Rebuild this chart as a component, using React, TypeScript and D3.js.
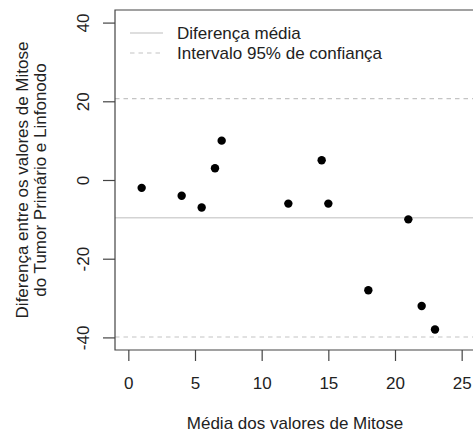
import { useEffect, useRef } from "react";
import * as d3 from "d3";

// Média (x) e diferença (y) dos valores de Mitose
const meanValues = [1, 4, 5.5, 6.5, 7, 12, 14.5, 15, 18, 21, 22, 23];
const diffValues = [-2, -4, -7, 3, 10, -6, 5, -6, -28, -10, -32, -38];

const meanDiff = -9.6;
const upperLimit = 20.7;
const lowerLimit = -39.9;

const xTicks = [0, 5, 10, 15, 20, 25];
const yTicks = [-40, -20, 0, 20, 40];

const legendLabels = ["Diferença média", "Intervalo 95% de confiança"];

export default function App() {
    const svgRef = useRef<SVGSVGElement>(null);

    useEffect(() => {
        const svg = d3.select(svgRef.current);
        svg.selectAll("*").remove();

        const width = 473;
        const height = 435;
        const left = 115;
        const right = 475;
        const top = 10;
        const bottom = 350;
        const font = "Liberation Sans, Arial, sans-serif";
        const fontSize = "17px";
        const ink = "#222";
        const axisColor = "#444";
        const dash = "4.5,4";

        const x = d3.scaleLinear().domain([-1, 26]).range([left, right]);
        const y = d3.scaleLinear().domain([-43.2, 43.2]).range([bottom, top]);

        svg.attr("width", width).attr("height", height);

        // reference lines
        svg.append("line")
            .attr("x1", left)
            .attr("x2", right)
            .attr("y1", y(meanDiff))
            .attr("y2", y(meanDiff))
            .attr("stroke", "#d3d3d3")
            .attr("stroke-width", 1.5);

        [upperLimit, lowerLimit].forEach((v) => {
            svg.append("line")
                .attr("x1", left)
                .attr("x2", right)
                .attr("y1", y(v))
                .attr("y2", y(v))
                .attr("stroke", "#c4c4c4")
                .attr("stroke-width", 1.2)
                .attr("stroke-dasharray", dash);
        });

        // points
        svg.selectAll(".pt")
            .data(meanValues)
            .join("circle")
            .attr("class", "pt")
            .attr("cx", (d) => x(d))
            .attr("cy", (_d, i) => y(diffValues[i]))
            .attr("r", 4.2)
            .attr("fill", "#000");

        // box (left, top, bottom)
        svg.append("path")
            .attr("d", `M${right},${top}H${left}V${bottom}H${right}`)
            .attr("fill", "none")
            .attr("stroke", axisColor)
            .attr("stroke-width", 1.2);

        // x axis
        const xAxis = svg.append("g")
            .attr("transform", `translate(0,${bottom})`)
            .call(d3.axisBottom(x).tickValues(xTicks).tickFormat((d) => String(d)).tickSize(11).tickSizeOuter(0));
        xAxis.select(".domain").remove();
        xAxis.selectAll("line").attr("stroke", axisColor).attr("stroke-width", 1.2);
        xAxis.selectAll("text")
            .attr("y", 33)
            .attr("dy", null)
            .attr("dominant-baseline", "central")
            .attr("fill", ink)
            .style("font-family", font)
            .style("font-size", fontSize);

        // y axis
        const yAxis = svg.append("g")
            .attr("transform", `translate(${left},0)`)
            .call(d3.axisLeft(y).tickValues(yTicks).tickFormat((d) => String(d)).tickSize(12).tickSizeOuter(0));
        yAxis.select(".domain").remove();
        yAxis.selectAll("line").attr("stroke", axisColor).attr("stroke-width", 1.2);
        yAxis.selectAll("text")
            .attr("fill", ink)
            .attr("x", null)
            .attr("dy", null)
            .attr("transform", "translate(-32,0) rotate(-90)")
            .attr("text-anchor", "middle")
            .attr("dominant-baseline", "central")
            .style("font-family", font)
            .style("font-size", fontSize);

        // axis titles
        svg.append("text")
            .attr("x", (left + right) / 2)
            .attr("y", 423)
            .attr("text-anchor", "middle")
            .attr("dominant-baseline", "central")
            .attr("fill", ink)
            .style("font-family", font)
            .style("font-size", fontSize)
            .text("Média dos valores de Mitose");

        const yTitle = svg.append("text")
            .attr("transform", `translate(0,${(top + bottom) / 2}) rotate(-90)`)
            .attr("text-anchor", "middle")
            .attr("fill", ink)
            .style("font-family", font)
            .style("font-size", fontSize);
        yTitle.append("tspan").attr("x", 0).attr("y", 28).text("Diferença entre os valores de Mitose");
        yTitle.append("tspan").attr("x", 0).attr("y", 46).text("do Tumor Primário e Linfonodo");

        // legend
        const legend = svg.append("g");
        legendLabels.forEach((label, i) => {
            const ly = 33 + i * 20;
            legend.append("line")
                .attr("x1", 130)
                .attr("x2", 163)
                .attr("y1", ly)
                .attr("y2", ly)
                .attr("stroke", i === 0 ? "#d3d3d3" : "#c4c4c4")
                .attr("stroke-width", i === 0 ? 1.5 : 1.2)
                .attr("stroke-dasharray", i === 0 ? null : dash);
            legend.append("text")
                .attr("x", 177)
                .attr("y", ly)
                .attr("dominant-baseline", "central")
                .attr("fill", ink)
                .style("font-family", font)
                .style("font-size", fontSize)
                .text(label);
        });
    }, []);

    return <svg ref={svgRef} style={{ position: "absolute", left: 0, top: 0 }} />;
}
